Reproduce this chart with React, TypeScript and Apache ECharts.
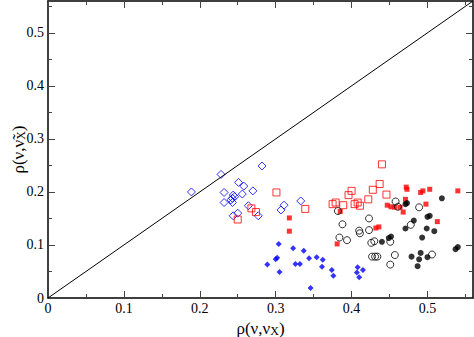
import React, { useEffect, useRef } from "react";
import * as echarts from "echarts";

const AXIS_MIN = 0;
const AXIS_MAX = 0.56;
const MAJOR_STEP = 0.1;
const MINOR_STEP = 0.05;

const blueOpenDiamonds: number[][] = [
  [0.189, 0.2], [0.228, 0.233], [0.282, 0.249], [0.251, 0.218], [0.258, 0.211],
  [0.232, 0.199], [0.256, 0.196], [0.27, 0.202], [0.244, 0.194], [0.246, 0.191],
  [0.243, 0.188], [0.241, 0.185], [0.232, 0.18], [0.243, 0.18], [0.264, 0.174],
  [0.25, 0.16], [0.244, 0.155], [0.277, 0.155], [0.311, 0.175], [0.307, 0.166],
  [0.333, 0.183],
];

const blueFilledDiamonds: number[][] = [
  [0.304, 0.102], [0.323, 0.094], [0.337, 0.089], [0.3, 0.073], [0.302, 0.076],
  [0.289, 0.063], [0.326, 0.064], [0.332, 0.064], [0.344, 0.075], [0.354, 0.077],
  [0.362, 0.072], [0.361, 0.059], [0.305, 0.049], [0.374, 0.053], [0.376, 0.042],
  [0.346, 0.019], [0.408, 0.058], [0.415, 0.053], [0.407, 0.048], [0.41, 0.039],
];

const redOpenSquares: number[][] = [
  [0.25, 0.148], [0.268, 0.169], [0.274, 0.162], [0.301, 0.199], [0.339, 0.168],
  [0.44, 0.252], [0.437, 0.215], [0.428, 0.204], [0.446, 0.195], [0.4, 0.202],
  [0.396, 0.194], [0.422, 0.186], [0.375, 0.177], [0.379, 0.18], [0.389, 0.175],
  [0.404, 0.177], [0.408, 0.18], [0.411, 0.174],
];

const redFilledSquares: number[][] = [
  [0.318, 0.151], [0.318, 0.126], [0.385, 0.163], [0.381, 0.102], [0.432, 0.132],
  [0.436, 0.134], [0.447, 0.175], [0.452, 0.172], [0.457, 0.171], [0.464, 0.171],
  [0.468, 0.162], [0.471, 0.186], [0.472, 0.209], [0.473, 0.205], [0.491, 0.199],
  [0.494, 0.202], [0.503, 0.205], [0.498, 0.177], [0.513, 0.144], [0.54, 0.202],
];

const blackOpenCircles: number[][] = [
  [0.382, 0.164], [0.388, 0.139], [0.384, 0.114], [0.394, 0.109], [0.423, 0.15],
  [0.41, 0.127], [0.411, 0.122], [0.423, 0.128], [0.426, 0.104], [0.43, 0.107],
  [0.427, 0.078], [0.431, 0.078], [0.434, 0.078], [0.451, 0.106], [0.451, 0.063],
  [0.457, 0.081], [0.458, 0.182], [0.461, 0.172], [0.489, 0.171], [0.478, 0.138],
  [0.506, 0.082],
];

const blackFilledCircles: number[][] = [
  [0.44, 0.106], [0.449, 0.113], [0.452, 0.116], [0.471, 0.177], [0.473, 0.179],
  [0.519, 0.188], [0.482, 0.146], [0.5, 0.153], [0.503, 0.155], [0.471, 0.131],
  [0.499, 0.131], [0.509, 0.126], [0.493, 0.114], [0.479, 0.078], [0.491, 0.085],
  [0.489, 0.073], [0.487, 0.06], [0.5, 0.077], [0.537, 0.092], [0.54, 0.096],
];

const diagonal: number[][] = [[AXIS_MIN, AXIS_MIN], [AXIS_MAX, AXIS_MAX]];

const FONT = "Times New Roman";

function makeAxis(kind: "x" | "y", position: string, major: boolean, withLabels: boolean, showLine: boolean, name?: any) {
  const ax: any = {
    type: "value",
    position,
    min: AXIS_MIN,
    max: AXIS_MAX,
    interval: major ? MAJOR_STEP : MINOR_STEP,
    splitLine: { show: false },
    axisLine: { show: showLine, onZero: false, lineStyle: { color: "#000", width: 1.5 } },
    axisTick: {
      show: true,
      inside: true,
      length: major ? 7 : 4,
      lineStyle: { color: "#444", width: 1 },
    },
    axisLabel: {
      show: withLabels,
      showMaxLabel: false,
      color: "#000",
      fontFamily: FONT,
      fontSize: 14,
      margin: kind === "x" ? 3 : 4,
    },
  };
  if (name) Object.assign(ax, name);
  return ax;
}

export default function App() {
  const ref = useRef<HTMLDivElement>(null);
  useEffect(() => {
    if (!ref.current) return;
    const chart = echarts.init(ref.current, null, { renderer: "svg" });
    const richName = {
      main: { fontFamily: FONT, fontSize: 17, color: "#000" },
      sub: { fontFamily: FONT, fontSize: 12, padding: [6, 0, 0, 0], color: "#000" },
    };
    const xName = {
      name: "{main|ρ(ν,ν}{sub|X}{main|)}",
      nameLocation: "middle",
      nameGap: 18,
      nameTextStyle: { fontFamily: FONT, fontSize: 17, color: "#000", rich: richName },
    };
    const yName = {
      name: "{main|ρ(ν,ν\u0303}{sub|X}{main|)}",
      nameLocation: "middle",
      nameGap: 21,
      nameMoveOverlap: false,
      nameTextStyle: { fontFamily: FONT, fontSize: 17, color: "#000", rich: richName },
    };
    const openStyle = (c: string) => ({ color: "rgba(0,0,0,0)", borderColor: c, borderWidth: 1 });
    chart.setOption({
      animation: false,
      textStyle: { fontFamily: FONT },
      grid: { left: 48, right: 1, top: 1, bottom: 39, containLabel: false, outerBoundsMode: "none" },
      xAxis: [
        makeAxis("x", "bottom", true, true, true, xName),
        makeAxis("x", "bottom", false, false, false),
        makeAxis("x", "top", true, false, true),
        makeAxis("x", "top", false, false, false),
      ],
      yAxis: [
        makeAxis("y", "left", true, true, true, yName),
        makeAxis("y", "left", false, false, false),
        makeAxis("y", "right", true, false, true),
        makeAxis("y", "right", false, false, false),
      ],
      series: [
        {
          type: "line",
          data: diagonal,
          showSymbol: false,
          symbol: "none",
          lineStyle: { color: "#000", width: 1 },
          silent: true,
        },
        {
          type: "scatter",
          data: blueOpenDiamonds,
          symbol: "diamond",
          symbolSize: 8,
          itemStyle: openStyle("#0000ff"),
        },
        {
          type: "scatter",
          data: blueFilledDiamonds,
          symbol: "diamond",
          symbolSize: 6,
          itemStyle: { color: "#0000ff" },
        },
        {
          type: "scatter",
          data: redOpenSquares,
          symbol: "rect",
          symbolSize: 7,
          itemStyle: openStyle("#ff0000"),
        },
        {
          type: "scatter",
          data: redFilledSquares,
          symbol: "rect",
          symbolSize: 5,
          itemStyle: { color: "#ff0000" },
        },
        {
          type: "scatter",
          data: blackOpenCircles,
          symbol: "circle",
          symbolSize: 7,
          itemStyle: openStyle("#000000"),
        },
        {
          type: "scatter",
          data: blackFilledCircles,
          symbol: "circle",
          symbolSize: 6,
          itemStyle: { color: "#000000" },
        },
      ],
    });
    return () => chart.dispose();
  }, []);
  return <div ref={ref} style={{ width: 474, height: 337, position: "absolute", left: 0, top: 0, background: "#fff" }} />;
}
